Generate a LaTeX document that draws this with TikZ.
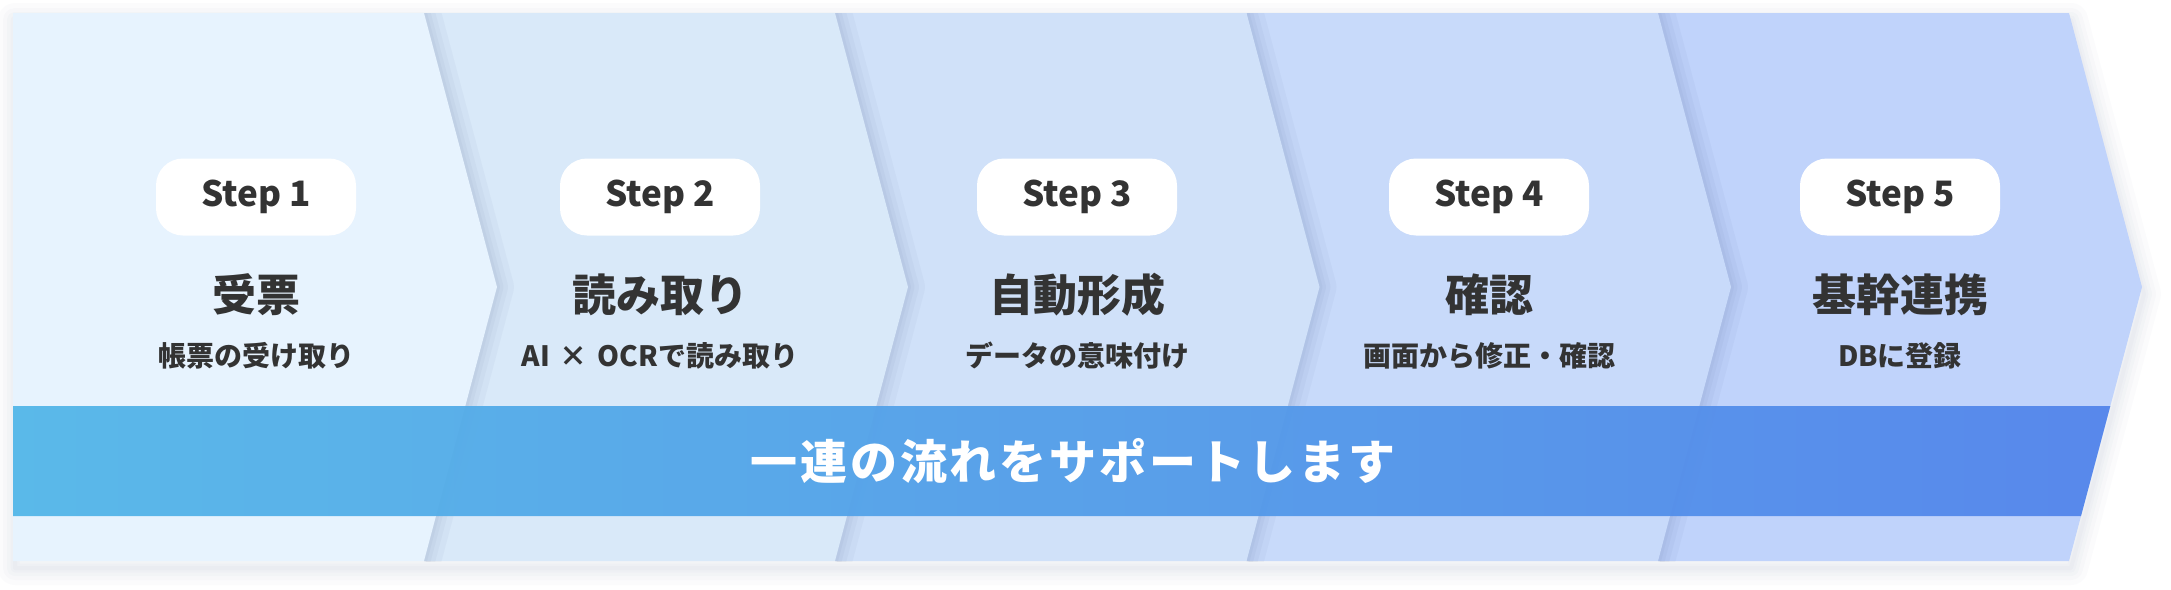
\documentclass[tikz,border=0pt]{standalone}
\usepackage{fontspec}
\setmainfont{Noto Sans CJK JP}
\usetikzlibrary{positioning}

\definecolor{chevA}{RGB}{231,243,254}
\definecolor{chevB}{RGB}{217,233,249}
\definecolor{chevC}{RGB}{208,225,249}
\definecolor{chevD}{RGB}{200,218,250}
\definecolor{chevE}{RGB}{192,211,251}
\definecolor{shadecol}{RGB}{40,60,110}
\definecolor{textgray}{RGB}{51,51,51}
\definecolor{bandL}{RGB}{82,182,232}
\definecolor{bandR}{RGB}{82,132,234}

\tikzset{
  edgeshade/.style={draw=shadecol, line width=#1, draw opacity=0.035, line join=round},
  outershade/.style={draw=shadecol, line width=#1, draw opacity=0.02, line join=round},
  pill/.style={fill=white, rounded corners=27pt, minimum width=200pt, minimum height=77pt,
    inner sep=0pt, text=textgray, font=\bfseries\fontsize{35}{35}\selectfont},
  title/.style={inner sep=0pt, text=textgray, font=\bfseries\fontsize{44}{44}\selectfont},
  sub/.style={inner sep=0pt, text=textgray, font=\bfseries\fontsize{28}{28}\selectfont},
  bandtext/.style={inner sep=0pt, text=white,
    font=\bfseries\fontsize{47}{47}\selectfont\addfontfeatures{LetterSpace=6}}
}

\begin{document}
\begin{tikzpicture}[x=1pt,y=-1pt]
  \useasboundingbox (0,0) rectangle (2171,589);
  % soft shadow under the whole strip
  \begin{scope}[shift={(2,7)}]
    \foreach \w in {34,24,16,9,4}
      \draw[outershade=\w] (13,13) -- (2069,13) -- (2142,287) -- (2069,561) -- (13,561) -- cycle;
  \end{scope}
  \begin{scope}
    \clip (13,13) rectangle (2150,561);
    % the five chevrons, back to front
    \fill[chevE] (1658,13) -- (2069,13) -- (2142,287) -- (2069,561) -- (1658,561) -- cycle;
    \foreach \w in {34,22,13,6}
      \draw[edgeshade=\w] (1658,13) -- (1731,287) -- (1658,561);
    \fill[chevD] (1246.5,13) -- (1658,13) -- (1731,287) -- (1658,561) -- (1246.5,561) -- cycle;
    \foreach \w in {34,22,13,6}
      \draw[edgeshade=\w] (1246.5,13) -- (1319.5,287) -- (1246.5,561);
    \fill[chevC] (835,13) -- (1246.5,13) -- (1319.5,287) -- (1246.5,561) -- (835,561) -- cycle;
    \foreach \w in {34,22,13,6}
      \draw[edgeshade=\w] (835,13) -- (908,287) -- (835,561);
    \fill[chevB] (424,13) -- (835,13) -- (908,287) -- (835,561) -- (424,561) -- cycle;
    \foreach \w in {34,22,13,6}
      \draw[edgeshade=\w] (424,13) -- (497,287) -- (424,561);
    \fill[chevA] (13,13) -- (424,13) -- (497,287) -- (424,561) -- (13,561) -- cycle;
  \end{scope}
  % band
  \shade[left color=bandL, right color=bandR, fill opacity=0.94]
    (13,406) -- (2110.3,406) -- (2081,516) -- (13,516) -- cycle;
  \node[bandtext] (band) at (1073,461) {一連の流れをサポートします};

  \node[pill] (p1) at (256,197) {Step 1};
  \node[title] (t1) at (256,295) {受票};
  \node[sub] (d1) at (256,356) {帳票の受け取り};

  \node[pill] (p2) at (660,197) {Step 2};
  \node[title] (t2) at (660,295) {読み取り};
  \node[sub] (d2) at (660,356) {AI\hspace{10pt}×\hspace{10pt}OCRで読み取り};

  \node[pill] (p3) at (1077,197) {Step 3};
  \node[title] (t3) at (1077,295) {自動形成};
  \node[sub] (d3) at (1077,356) {データの意味付け};

  \node[pill] (p4) at (1489,197) {Step 4};
  \node[title] (t4) at (1489,295) {確認};
  \node[sub] (d4) at (1489,356) {画面から修正・確認};

  \node[pill] (p5) at (1900,197) {Step 5};
  \node[title] (t5) at (1900,295) {基幹連携};
  \node[sub] (d5) at (1900,356) {DBに登録};
\end{tikzpicture}
\end{document}
